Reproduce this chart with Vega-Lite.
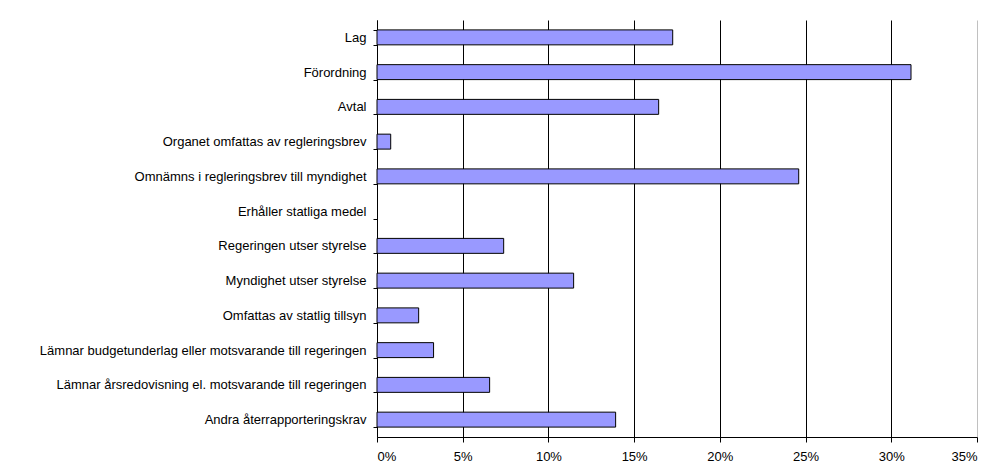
{
  "$schema": "https://vega.github.io/schema/vega-lite/v6.json",
  "autosize": "none",
  "width": 600,
  "height": 417,
  "padding": {"left": 377, "top": 20, "right": 17, "bottom": 38},
  "background": "white",
  "config": {"view": {"stroke": null}, "font": "Liberation Sans"},
  "data": {"values": [
    {"kategori": "Lag", "andel": 17.25},
    {"kategori": "Förordning", "andel": 31.15},
    {"kategori": "Avtal", "andel": 16.43},
    {"kategori": "Organet omfattas av regleringsbrev", "andel": 0.8},
    {"kategori": "Omnämns i regleringsbrev till myndighet", "andel": 24.6},
    {"kategori": "Erhåller statliga medel", "andel": 0},
    {"kategori": "Regeringen utser styrelse", "andel": 7.39},
    {"kategori": "Myndighet utser styrelse", "andel": 11.47},
    {"kategori": "Omfattas av statlig tillsyn", "andel": 2.43},
    {"kategori": "Lämnar budgetunderlag eller motsvarande till regeringen", "andel": 3.3},
    {"kategori": "Lämnar årsredovisning el. motsvarande till regeringen", "andel": 6.57},
    {"kategori": "Andra återrapporteringskrav", "andel": 13.92}
  ]},
  "mark": {"type": "bar", "fill": "#9999ff", "stroke": "#000000", "strokeWidth": 1},
  "encoding": {
    "strokeOpacity": {"condition": {"test": "datum.andel > 0", "value": 1}, "value": 0},
    "y": {
      "field": "kategori",
      "type": "nominal",
      "sort": null,
      "title": null,
      "scale": {"paddingInner": 0.57, "paddingOuter": 0.285},
      "axis": {
        "tickBand": "extent",
        "tickSize": 4,
        "tickColor": "#000000",
        "domainColor": "#000000",
        "labelFontSize": 13,
        "labelColor": "#000000",
        "labelPadding": 7,
        "labelLimit": 400,
        "grid": false
      }
    },
    "x": {
      "field": "andel",
      "type": "quantitative",
      "title": null,
      "scale": {"domain": [0, 35], "nice": false},
      "axis": {
        "values": [0, 5, 10, 15, 20, 25, 30, 35],
        "labelExpr": "datum.value + '%'",
        "grid": true,
        "gridColor": {"condition": {"test": "datum.value >= 35", "value": "#c0c0c0"}, "value": "#000000"},
        "gridOpacity": 1,
        "tickSize": 5,
        "tickColor": "#000000",
        "domainColor": "#000000",
        "labelFontSize": 13,
        "labelColor": "#000000",
        "labelPadding": 8
      }
    }
  }
}
